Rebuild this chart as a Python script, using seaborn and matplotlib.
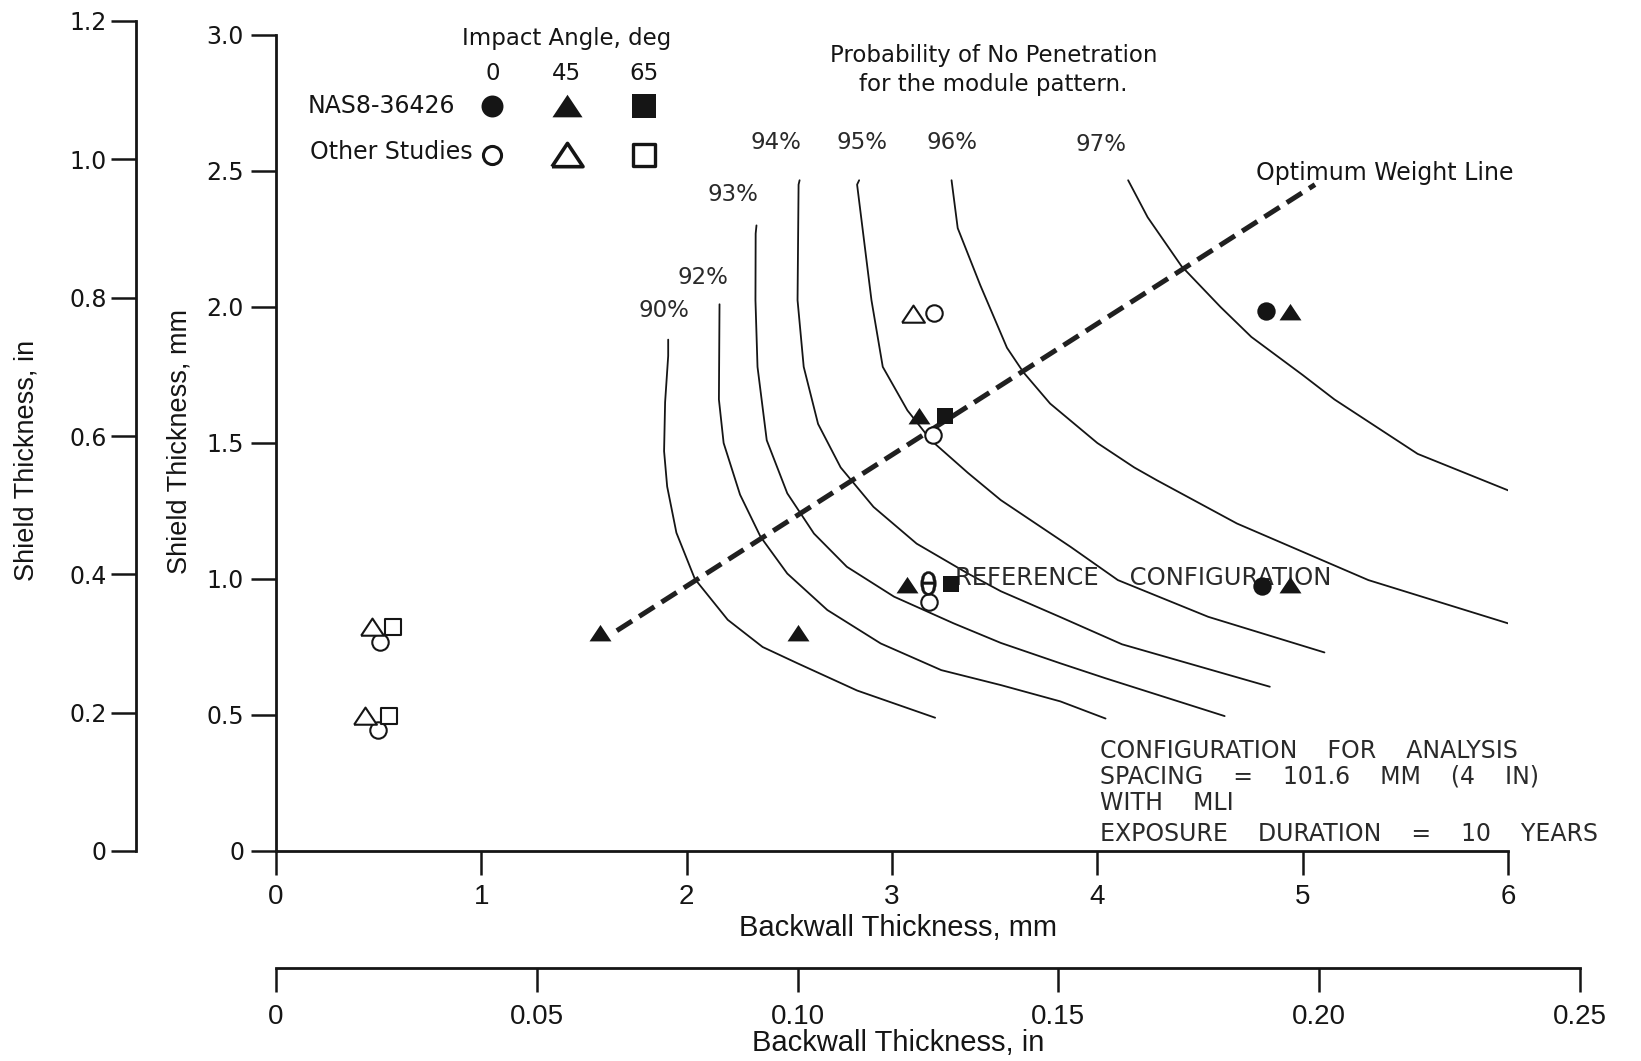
import matplotlib
matplotlib.use("Agg")
import matplotlib.pyplot as plt
import seaborn as sns
import pandas as pd

# ---------------- data ----------------
# probability-of-no-penetration contours (backwall mm, shield mm)
p90_x = [1.91, 1.91, 1.895, 1.89, 1.905, 1.95, 2.04, 2.20, 2.37, 2.54, 2.83, 3.21]
p90_y = [1.88, 1.82, 1.65, 1.47, 1.34, 1.17, 1.00, 0.85, 0.75, 0.69, 0.59, 0.49]
p92_x = [2.160, 2.157, 2.18, 2.26, 2.36, 2.49, 2.685, 2.945, 3.24, 3.53, 3.82, 4.04]
p92_y = [2.01, 1.66, 1.50, 1.31, 1.155, 1.02, 0.886, 0.763, 0.665, 0.61, 0.55, 0.487]
p93_x = [2.34, 2.336, 2.335, 2.345, 2.39, 2.49, 2.62, 2.78, 3.01, 3.30, 3.53, 3.82, 4.04, 4.62]
p93_y = [2.30, 2.27, 2.025, 1.78, 1.51, 1.315, 1.167, 1.045, 0.935, 0.837, 0.765, 0.69, 0.635, 0.496]
p94_x = [2.55, 2.545, 2.54, 2.57, 2.64, 2.75, 2.91, 3.12, 3.37, 3.53, 3.82, 4.12, 4.84]
p94_y = [2.466, 2.45, 2.025, 1.78, 1.57, 1.41, 1.265, 1.13, 1.02, 0.955, 0.86, 0.76, 0.604]
p95_x = [2.84, 2.83, 2.90, 2.955, 3.075, 3.19, 3.37, 3.53, 3.87, 4.10, 4.54, 5.106]
p95_y = [2.466, 2.45, 2.025, 1.78, 1.62, 1.51, 1.39, 1.29, 1.118, 0.996, 0.861, 0.73]
p96_x = [3.29, 3.32, 3.43, 3.56, 3.64, 3.77, 4.00, 4.18, 4.29, 4.68, 5.32, 6.03]
p96_y = [2.466, 2.29, 2.08, 1.85, 1.76, 1.645, 1.50, 1.41, 1.363, 1.204, 0.996, 0.83]
p97_x = [4.15, 4.245, 4.41, 4.60, 4.75, 5.00, 5.155, 5.56, 6.02]
p97_y = [2.466, 2.33, 2.15, 2.00, 1.89, 1.75, 1.66, 1.46, 1.32]
curve_labels = ["90%", "92%", "93%", "94%", "95%", "96%", "97%"]

# optimum weight line
opt_x = [1.66, 5.06]
opt_y = [0.81, 2.45]

# NAS8-36426 test points (filled markers) by impact angle
nas_0_x = [4.80, 4.82]
nas_0_y = [0.974, 1.985]
nas_45_x = [1.58, 2.54, 3.13, 3.075, 4.94, 4.94]
nas_45_y = [0.80, 0.80, 1.60, 0.978, 0.977, 1.98]
nas_65_x = [3.257, 3.286]
nas_65_y = [1.60, 0.981]

# other studies (open markers) by impact angle
oth_0_x = [3.205, 3.20, 3.18, 0.507, 0.499]
oth_0_y = [1.978, 1.53, 0.916, 0.769, 0.445]
oth_45_x = [3.10, 0.467, 0.434]
oth_45_y = [1.976, 0.824, 0.496]
oth_65_x = [0.569, 0.552]
oth_65_y = [0.824, 0.496]
oth_theta_x = [3.175]
oth_theta_y = [0.984]

# axis ticks
mm_x_ticks = [0, 1, 2, 3, 4, 5, 6]
mm_x_labels = ["0", "1", "2", "3", "4", "5", "6"]
mm_y_ticks = [0, 0.5, 1.0, 1.5, 2.0, 2.5, 3.0]
mm_y_labels = ["0", "0.5", "1.0", "1.5", "2.0", "2.5", "3.0"]
in_x_ticks = [0, 0.05, 0.10, 0.15, 0.20, 0.25]
in_x_labels = ["0", "0.05", "0.10", "0.15", "0.20", "0.25"]
in_y_ticks = [0, 0.2, 0.4, 0.6, 0.8, 1.0, 1.2]
in_y_labels = ["0", "0.2", "0.4", "0.6", "0.8", "1.0", "1.2"]

legend_angles = ["0", "45", "65"]

# ---------------- style ----------------
sns.set_theme(style="white")
plt.rcParams['font.family'] = ['Liberation Sans', 'DejaVu Sans']
INK = '#151515'
DV = ['DejaVu Sans']

W, H = 1641, 1061
fig = plt.figure(figsize=(W / 100, H / 100), dpi=100)
fig.patch.set_facecolor('white')


def fx(px):
    return px / W


def fy(py):
    return 1 - py / H


X0, X6, Y0, Y3 = 276, 1508, 851, 35
ax = fig.add_axes([fx(X0), fy(Y0), (X6 - X0) / W, (Y0 - Y3) / H])
ax.set_xlim(0, 6)
ax.set_ylim(0, 3)
ax.set_facecolor('white')
for s in ['top', 'right']:
    ax.spines[s].set_visible(False)
for s in ['left', 'bottom']:
    ax.spines[s].set_color(INK)
    ax.spines[s].set_linewidth(2.0)
ax.set_xticks(mm_x_ticks)
ax.set_xticklabels(mm_x_labels)
ax.set_yticks(mm_y_ticks)
ax.set_yticklabels(mm_y_labels, family=DV)
ax.tick_params(axis='x', direction='out', length=17, width=1.8, pad=7,
               labelsize=20, colors=INK, bottom=True)
ax.tick_params(axis='y', direction='out', length=18, width=1.8, pad=5,
               labelsize=17, colors=INK, left=True)
ax.set_xlabel("Backwall Thickness, mm", fontsize=21, color=INK, va='center')
ax.xaxis.set_label_coords(fx(898), fy(928), transform=fig.transFigure)
ax.set_ylabel("Shield Thickness, mm", fontsize=19.5, color=INK, va='center')
ax.yaxis.set_label_coords(fx(180), fy(442), transform=fig.transFigure)

# contour curves
frames = []
for lab, xs, ys in zip(curve_labels,
                       [p90_x, p92_x, p93_x, p94_x, p95_x, p96_x, p97_x],
                       [p90_y, p92_y, p93_y, p94_y, p95_y, p96_y, p97_y]):
    frames.append(pd.DataFrame({'x': xs, 'y': ys, 'curve': lab}))
curves = pd.concat(frames, ignore_index=True)
sns.lineplot(data=curves, x='x', y='y', units='curve', estimator=None,
             sort=False, color=INK, lw=1.3, ax=ax, legend=False)

# optimum weight line
ax.plot(opt_x, opt_y, color='#202020', lw=3.6, linestyle=(0, (3.6, 1.7)),
        solid_capstyle='butt', dash_capstyle='butt', zorder=3)

# markers
tri = [(-1, -0.72), (1, -0.72), (0, 0.78), (-1, -0.72)]
ax.scatter(nas_0_x, nas_0_y, marker='o', s=175, color=INK, zorder=5, lw=0)
ax.scatter(nas_45_x, nas_45_y, marker=tri, s=250, color=INK, zorder=5, lw=0)
ax.scatter(nas_65_x, nas_65_y, marker='s', s=135, color=INK, zorder=5, lw=0)
ax.scatter(oth_0_x, oth_0_y, marker='o', s=140, facecolors='white',
           edgecolors=INK, linewidths=1.5, zorder=5)
ax.scatter(oth_45_x, oth_45_y, marker=tri, s=270, facecolors='white',
           edgecolors=INK, linewidths=1.5, zorder=5)
ax.scatter(oth_65_x, oth_65_y, marker='s', s=130, facecolors='white',
           edgecolors=INK, linewidths=1.5, zorder=5)
ax.scatter(oth_theta_x, oth_theta_y, marker='$\\mathsf{\\theta}$', s=300, color=INK,
           linewidths=0.3, zorder=5)

# legend block (drawn in data coordinates)
leg_x = [1.054, 1.416, 1.793]
leg_y_nas, leg_y_oth = 2.739, 2.559
ax.text(1.416, 2.988, "Impact Angle, deg", ha='center', va='center',
        fontsize=16.5, family=DV, color=INK, clip_on=False)
for lx, a in zip(leg_x, legend_angles):
    ax.text(lx, 2.859, a, ha='center', va='center', fontsize=16.5, family=DV, color=INK)
ax.text(0.156, leg_y_nas, "NAS8-36426", ha='left', va='center', fontsize=17,
        family=DV, color=INK)
ax.text(0.165, leg_y_oth + 0.012, "Other Studies", ha='left', va='center',
        fontsize=17, family=DV, color=INK)
ax.scatter([leg_x[0]], [leg_y_nas], marker='o', s=250, color=INK, lw=0)
ax.scatter([leg_x[1]], [leg_y_nas], marker=tri, s=470, color=INK, lw=0)
ax.scatter([leg_x[2]], [leg_y_nas], marker='s', s=320, color=INK, lw=0)
ax.scatter([leg_x[0]], [leg_y_oth], marker='o', s=170, facecolors='white',
           edgecolors=INK, linewidths=2.2)
ax.scatter([leg_x[1]], [leg_y_oth], marker=tri, s=500, facecolors='white',
           edgecolors=INK, linewidths=2.6)
ax.scatter([leg_x[2]], [leg_y_oth], marker='s', s=270, facecolors='white',
           edgecolors=INK, linewidths=2.4)

# annotations
thin = dict(family=DV, color='#2a2a2a')
lab_pos = [(1.888, 1.988), (2.077, 2.108), (2.224, 2.412), (2.434, 2.604),
           (2.852, 2.604), (3.291, 2.604), (4.02, 2.596)]
for lab, (lx, ly) in zip(curve_labels, lab_pos):
    ax.text(lx, ly, lab, ha='center', va='center', fontsize=16.5, **thin)
ax.text(3.495, 2.923, "Probability of No Penetration", ha='center', va='center',
        fontsize=16.5, family=DV, color=INK)
ax.text(3.495, 2.819, "for the module pattern.", ha='center', va='center',
        fontsize=16.5, family=DV, color=INK)
ax.text(5.398, 2.492, "Optimum Weight Line", ha='center', va='center',
        fontsize=17, family=DV, color=INK)
ax.text(3.306, 1.004, "REFERENCE    CONFIGURATION", ha='left', va='center',
        fontsize=17.5, **thin)
cfg_lines = ["CONFIGURATION    FOR    ANALYSIS", "SPACING    =    101.6    MM    (4    IN)",
             "WITH    MLI", "EXPOSURE    DURATION    =    10    YEARS"]
for t, yy in zip(cfg_lines, [0.369, 0.273, 0.177, 0.062]):
    ax.text(4.015, yy, t, ha='left', va='center', fontsize=17, clip_on=False, **thin)

# ---------------- secondary inch scales ----------------
axl = fig.add_axes([fx(136), fy(851), 0.0005, (851 - 21) / H])
axl.set_ylim(0, 1.2)
axl.set_xticks([])
for s in ['top', 'right', 'bottom']:
    axl.spines[s].set_visible(False)
axl.spines['left'].set_color(INK)
axl.spines['left'].set_linewidth(2.0)
axl.set_yticks(in_y_ticks)
axl.set_yticklabels(in_y_labels, family=DV)
axl.tick_params(axis='y', direction='out', length=18, width=1.8, pad=3,
                labelsize=17, colors=INK, left=True)
axl.patch.set_alpha(0)
axl.set_ylabel("Shield Thickness, in", fontsize=19.5, color=INK, va='center')
axl.yaxis.set_label_coords(fx(27), fy(460), transform=fig.transFigure)

axb = fig.add_axes([fx(276), fy(968), (1580 - 276) / W, 0.0005])
axb.set_xlim(0, 0.25)
axb.set_yticks([])
for s in ['top', 'right', 'left']:
    axb.spines[s].set_visible(False)
axb.spines['bottom'].set_color(INK)
axb.spines['bottom'].set_linewidth(2.0)
axb.set_xticks(in_x_ticks)
axb.set_xticklabels(in_x_labels)
axb.tick_params(axis='x', direction='out', length=17, width=1.8, pad=9,
                labelsize=20, colors=INK, bottom=True)
axb.patch.set_alpha(0)
axb.set_xlabel("Backwall Thickness, in", fontsize=21, color=INK, va='center')
axb.xaxis.set_label_coords(fx(898), fy(1043), transform=fig.transFigure)

fig.savefig("out.png", dpi=100, facecolor='white')
